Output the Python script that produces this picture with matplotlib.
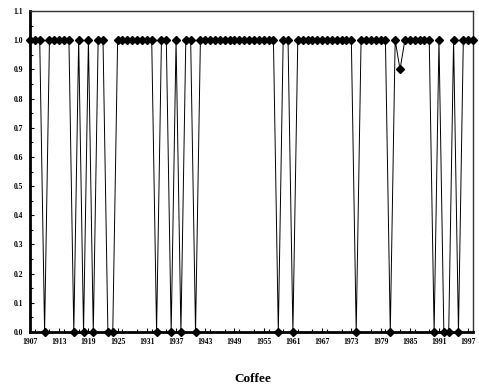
import matplotlib.pyplot as plt
from matplotlib.ticker import MultipleLocator

# Coffee series, one value per year 1907-1998
years = list(range(1907, 1999))
values = ([1, 1, 1, 0] + [1] * 5 + [0, 1, 0, 1, 0] + [1, 1, 0, 0] + [1] * 8 + [0]
          + [1, 1, 0, 1, 0, 1, 1, 0] + [1] * 16 + [0, 1, 1, 0] + [1] * 12 + [0]
          + [1] * 6 + [0, 1, 0.9] + [1] * 6 + [0, 1, 0, 0, 1, 0, 1, 1, 1])
label_years = list(range(1907, 1998, 6))
title = "Coffee"

plt.rcParams['font.family'] = ['Liberation Serif', 'DejaVu Serif']

fig = plt.figure(figsize=(4.79, 3.90), dpi=100)
ax = fig.add_axes([0.0626, 0.1487, 0.925, 0.8231])

ax.plot(years, values, color="black", linewidth=0.7, marker="D",
        markersize=3.6, markerfacecolor="black", markeredgecolor="black",
        clip_on=False, zorder=3)

ax.set_xlim(1907, 1998)
ax.set_ylim(0, 1.1)
ax.set_xticks(label_years)
ax.set_xticklabels([str(y) for y in label_years])
ax.xaxis.set_minor_locator(MultipleLocator(3))
ax.yaxis.set_major_locator(MultipleLocator(0.1))
ax.yaxis.set_minor_locator(MultipleLocator(0.05))
ax.yaxis.set_major_formatter(plt.FormatStrFormatter('%.1f'))

ax.tick_params(axis='both', which='both', direction='in', labelsize=5.5,
               width=0.8, color='black')
ax.tick_params(axis='both', which='major', length=3)
ax.tick_params(axis='both', which='minor', length=2)
ax.tick_params(axis='y', pad=5)
ax.tick_params(axis='x', pad=4)
for lab in ax.get_xticklabels() + ax.get_yticklabels():
    lab.set_fontweight('bold')

ax.spines['left'].set_linewidth(2)
ax.spines['bottom'].set_linewidth(2)
ax.spines['top'].set_linewidth(1)
ax.spines['right'].set_linewidth(1)
ax.spines['top'].set_color('#333333')
ax.spines['right'].set_color('#333333')

fig.text(0.528, 0.028, title, ha='center', va='center', fontsize=9.5,
         fontweight='bold')

fig.savefig("out.png", dpi=100)
